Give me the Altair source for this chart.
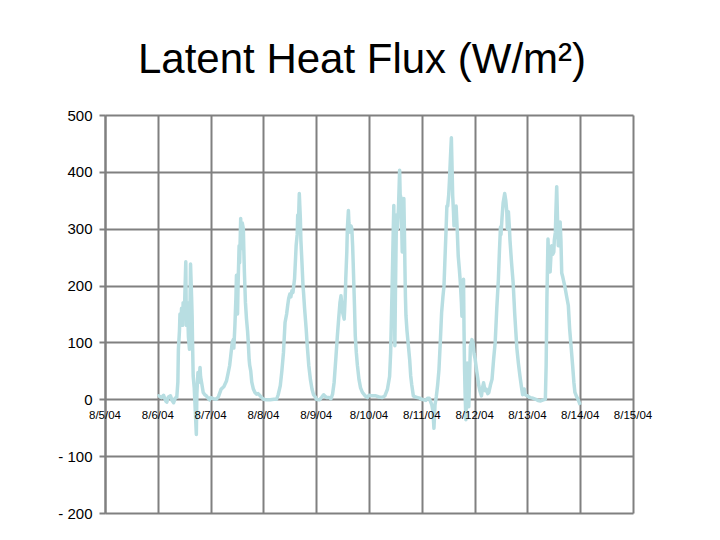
import altair as alt
import pandas as pd

# Day offsets from 8/5/04 00:00 and latent heat flux values (W/m2)
day_offsets = [
    1.00, 1.02, 1.07, 1.11, 1.15, 1.17, 1.20, 1.24, 1.27, 1.30, 1.33, 1.36, 1.38, 1.39, 1.41,
    1.42, 1.44, 1.45, 1.47, 1.48, 1.50, 1.51, 1.53, 1.54, 1.56, 1.58, 1.60, 1.61, 1.62, 1.64,
    1.65, 1.66, 1.67, 1.69, 1.71, 1.73, 1.74, 1.76, 1.78, 1.80, 1.81, 1.83, 1.86, 1.89, 1.92,
    1.95, 1.98,
    2.00, 2.05, 2.11, 2.15, 2.20, 2.25, 2.30, 2.33, 2.36, 2.38, 2.41, 2.43, 2.44, 2.46, 2.48,
    2.49, 2.51, 2.52, 2.54, 2.55, 2.57, 2.58, 2.59, 2.60, 2.62, 2.63, 2.64, 2.66, 2.68, 2.70,
    2.71, 2.73, 2.74, 2.76, 2.78, 2.81, 2.84, 2.87, 2.90, 2.94, 2.97,
    3.00, 3.06, 3.13, 3.20, 3.25, 3.28, 3.32, 3.35, 3.38, 3.41, 3.44, 3.46, 3.48, 3.50, 3.52,
    3.54, 3.56, 3.59, 3.61, 3.62, 3.64, 3.65, 3.66, 3.68, 3.69, 3.70, 3.71, 3.73, 3.75, 3.76,
    3.78, 3.81, 3.83, 3.86, 3.89, 3.92, 3.95, 3.99,
    4.00, 4.06, 4.10, 4.14, 4.16, 4.20, 4.25, 4.28, 4.31, 4.34, 4.375, 4.40, 4.425, 4.45, 4.47,
    4.49, 4.50, 4.52, 4.53, 4.55, 4.56, 4.58, 4.59, 4.61, 4.62, 4.64, 4.66, 4.675, 4.69, 4.70,
    4.725, 4.74, 4.76, 4.78, 4.81, 4.84, 4.875, 4.91, 4.94, 4.97,
    5.00, 5.06, 5.13, 5.19, 5.25, 5.30, 5.35, 5.39, 5.41, 5.44, 5.46, 5.47, 5.48, 5.49, 5.50,
    5.52, 5.54, 5.56, 5.58, 5.59, 5.61, 5.62, 5.63, 5.65, 5.66, 5.67, 5.68, 5.69, 5.70, 5.72,
    5.75, 5.77, 5.79, 5.81, 5.84, 5.88, 5.92, 5.96,
    6.00, 6.04, 6.075, 6.11, 6.14, 6.17, 6.19, 6.21, 6.23, 6.25, 6.275, 6.30, 6.325, 6.35, 6.375,
    6.40, 6.42, 6.44, 6.46, 6.475, 6.49, 6.51, 6.525, 6.54, 6.56, 6.57, 6.585, 6.60, 6.61, 6.63,
    6.65, 6.67, 6.69, 6.71, 6.73, 6.75, 6.76, 6.78, 6.79, 6.80, 6.81, 6.82, 6.835, 6.85, 6.86,
    6.875, 6.89, 6.905, 6.92, 6.95, 6.97, 6.99,
    7.01, 7.04, 7.08, 7.10, 7.13, 7.15, 7.17, 7.20, 7.22, 7.25, 7.27, 7.30, 7.33, 7.36, 7.39,
    7.42, 7.45, 7.47, 7.49, 7.50, 7.52, 7.54, 7.57, 7.59, 7.61, 7.62, 7.64, 7.66, 7.67, 7.70,
    7.73, 7.76, 7.80, 7.83, 7.86, 7.89, 7.91, 7.94, 7.96,
    8.00, 8.03, 8.06, 8.10, 8.16, 8.20, 8.25, 8.30, 8.34, 8.355, 8.37, 8.39, 8.41, 8.43, 8.45,
    8.46, 8.48, 8.50, 8.51, 8.53, 8.54, 8.555, 8.575, 8.585, 8.60, 8.62, 8.635, 8.65, 8.67, 8.71,
    8.745, 8.775, 8.80, 8.83, 8.857, 8.88, 8.90, 8.93, 8.96, 8.98, 9.00,
]

flux_values = [
    5, 6, 3, 7, -3, -5, 4, 6, -2, -6, 2, 4, 30, 88, 120,
    150, 135, 160, 130, 170, 145, 175, 242, 130, 170, 110, 88, 160, 238, 180,
    147, 90, 41, 20, -20, -62, 10, 47, 30, 56, 40, 29, 12, 8, 6,
    2, -1,
    3, 1, 0, 5, 18, 22, 32, 45, 59, 75, 100, 105, 90, 129, 180,
    218, 150, 200, 270, 240, 318, 280, 265, 310, 300, 260, 224, 170, 141, 120,
    106, 70, 60, 50, 30, 18, 12, 9, 10, 6, 3,
    0, -1, -1, 0, 0, 8, 24, 50, 82, 135, 150, 165, 178, 185, 180,
    191, 188, 212, 250, 270, 290, 324, 300, 362, 340, 318, 280, 241, 200, 188,
    160, 124, 95, 59, 35, 18, 8, 3,
    0, -1, 3, 8, 6, 3, 3, 1, 9, 30, 76, 110, 141, 170, 182,
    160, 153, 145, 141, 180, 212, 260, 300, 332, 310, 294, 305, 300, 270, 241,
    165, 112, 82, 60, 35, 20, 12, 8, 5, 3,
    7, 6, 6, 4, 3, 6, 18, 40, 82, 206, 300, 341, 200, 94, 180,
    324, 300, 341, 403, 360, 353, 300, 259, 320, 353, 300, 235, 180, 147, 120,
    90, 70, 41, 25, 6, 4, 3, 2,
    0, -1, -2, 2, 2, -5, -10, -20, -51, -10, 5, 25, 52, 100, 152,
    180, 199, 250, 299, 340, 340, 360, 387, 420, 460, 420, 358, 330, 305, 320,
    340, 300, 252, 230, 205, 170, 146, 180, 211, 120, 52, 10, -36, 20, 64,
    30, -13, 40, 93, 105, 100, 80,
    71, 50, 24, 15, 6, 20, 29, 15, 18, 10, 12, 25, 35, 70, 100,
    160, 210, 260, 303, 290, 320, 345, 362, 350, 330, 300, 330, 300, 280, 240,
    205, 150, 90, 63, 40, 20, 8, 18, 8,
    6, 4, 3, 2, 0, -2, -3, -1, 0, 60, 180, 282, 230, 224, 260,
    270, 255, 259, 280, 294, 330, 374, 300, 270, 290, 312, 280, 222, 215, 198,
    180, 165, 124, 90, 59, 30, 12, 5, 0, -5, -10,
]

day_labels = ["8/5/04", "8/6/04", "8/7/04", "8/8/04", "8/9/04", "8/10/04",
              "8/11/04", "8/12/04", "8/13/04", "8/14/04", "8/15/04"]
label_days = [5, 6, 7, 8, 9, 10, 11, 12, 13, 14, 15]
y_ticks = [-200, -100, 0, 100, 200, 300, 400, 500]

base = pd.Timestamp("2004-08-05")
times = [(base + pd.Timedelta(days=d)).strftime("%Y-%m-%dT%H:%M:%S") for d in day_offsets]
df = pd.DataFrame({"time": times, "flux": flux_values})

lab_df = pd.DataFrame({
    "time": [pd.Timestamp(2004, 8, d).strftime("%Y-%m-%dT%H:%M:%S") for d in label_days],
    "label": day_labels,
})

GRID = "#808080"
FONT = "Arial, Liberation Sans, sans-serif"

x_scale = alt.Scale(domain=[alt.DateTime(year=2004, month=8, date=5),
                            alt.DateTime(year=2004, month=8, date=15)])
y_scale = alt.Scale(domain=[-200, 500], nice=False, zero=False)

line = alt.Chart(df).mark_line(color="#B8DEE2", strokeWidth=3.5, strokeJoin="round").encode(
    x=alt.X("time:T", scale=x_scale, title=None,
            axis=alt.Axis(values=[alt.DateTime(year=2004, month=8, date=d) for d in label_days],
                          grid=True, gridColor=GRID, gridWidth=2, gridOpacity=1,
                          labels=False, ticks=False, domain=False)),
    y=alt.Y("flux:Q", scale=y_scale, title=None,
            axis=alt.Axis(values=y_ticks, grid=True, gridColor=GRID, gridWidth=2, gridOpacity=1,
                          domain=True, domainColor=GRID, domainWidth=2,
                          ticks=True, tickColor=GRID, tickWidth=2, tickSize=6,
                          labelFont=FONT, labelFontSize=15, labelColor="black",
                          labelPadding=7,
                          labelExpr="datum.value < 0 ? '- ' + (-datum.value) : '' + datum.value")),
)

labels = alt.Chart(lab_df).mark_text(
    font=FONT, fontSize=11.5, color="black", baseline="alphabetic", align="center", dy=20
).encode(
    x=alt.X("time:T", scale=x_scale),
    y=alt.datum(0),
    text="label:N",
)

chart = alt.layer(line, labels).properties(
    width=528,
    height=398,
    autosize=alt.AutoSizeParams(type="none"),
    padding={"left": 97, "top": 107, "right": 79, "bottom": 19},
    title=alt.TitleParams(
        "Latent Heat Flux (W/m²)",
        font=FONT, fontSize=42, fontWeight="normal", color="black",
        anchor="middle", frame="group", baseline="alphabetic", offset=34, dx=-7, dy=41,
    ),
).configure_view(strokeWidth=0)

chart.save("out.html", embed_options={"renderer": "svg", "actions": False})
